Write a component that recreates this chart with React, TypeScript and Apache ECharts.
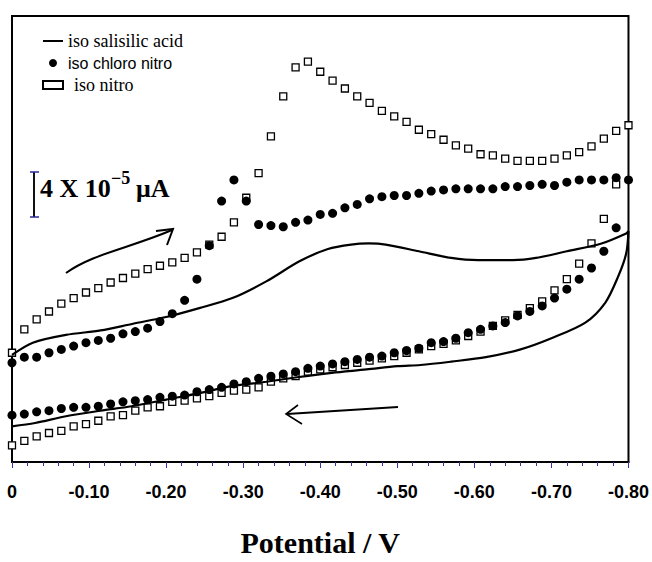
import React, { useEffect, useRef } from "react";
import * as echarts from "echarts";

// Potential sampling (V) for the scatter series, forward scan 0 -> -0.80
const POTENTIAL = [
  0, -0.016, -0.032, -0.048, -0.064, -0.08, -0.096, -0.112, -0.128, -0.144,
  -0.16, -0.176, -0.192, -0.208, -0.224, -0.24, -0.256, -0.272, -0.288, -0.304,
  -0.32, -0.336, -0.352, -0.368, -0.384, -0.4, -0.416, -0.432, -0.448, -0.464,
  -0.48, -0.496, -0.512, -0.528, -0.544, -0.56, -0.576, -0.592, -0.608, -0.624,
  -0.64, -0.656, -0.672, -0.688, -0.704, -0.72, -0.736, -0.752, -0.768, -0.784,
  -0.8,
];

// Current (units of 10^-5 µA, arbitrary offset)
// iso chloro nitro — forward scan (0 -> -0.80)
const CHLORO_FWD = [
  8.9, 9.4, 9.4, 9.8, 10.1, 10.4, 10.7, 10.9, 11.1, 11.5,
  11.7, 12.0, 12.6, 13.3, 14.5, 16.4, 19.4, 23.4, 25.3, 23.4,
  21.3, 21.2, 21.1, 21.5, 21.7, 22.2, 22.3, 22.8, 23.1, 23.6,
  23.8, 23.9, 23.9, 24.1, 24.3, 24.4, 24.5, 24.5, 24.5, 24.5,
  24.7, 24.7, 24.8, 24.9, 24.8, 25.1, 25.3, 25.3, 25.3, 25.5,
  25.3,
];
// iso chloro nitro — reverse scan (-0.784 -> 0)
const CHLORO_REV = [
  21.0, 18.9, 17.4, 16.4, 15.5, 14.7, 14.0, 13.5, 13.1, 12.5,
  12.2, 11.9, 11.6, 11.1, 10.8, 10.7, 10.2, 10.0, 9.8, 9.5,
  9.4, 9.2, 9.0, 8.8, 8.6, 8.4, 8.1, 7.9, 7.7, 7.5,
  7.2, 7.0, 6.7, 6.5, 6.3, 6.0, 5.9, 5.8, 5.6, 5.5,
  5.4, 5.2, 5.0, 4.9, 4.9, 4.8, 4.6, 4.5, 4.3, 4.2,
];
// iso nitro — forward scan (0 -> -0.80)
const NITRO_FWD = [
  9.8, 11.9, 12.8, 13.5, 14.2, 14.7, 15.2, 15.6, 16.1, 16.5,
  16.9, 17.3, 17.6, 17.9, 18.3, 18.8, 19.5, 20.2, 21.5, 23.7,
  25.9, 29.2, 32.8, 35.4, 35.9, 35.0, 34.2, 33.5, 32.8, 32.2,
  31.5, 31.0, 30.5, 29.8, 29.4, 28.9, 28.4, 28.1, 27.6, 27.5,
  27.2, 27.0, 27.0, 27.0, 27.2, 27.5, 27.8, 28.3, 29.0, 29.7,
  30.2,
];
// iso nitro — reverse scan (-0.784 -> 0)
const NITRO_REV = [
  24.9, 21.8, 19.6, 17.8, 16.4, 15.4, 14.4, 13.8, 13.2, 12.7,
  12.2, 11.7, 11.3, 10.9, 10.6, 10.4, 10.1, 9.8, 9.5, 9.3,
  9.1, 8.9, 8.7, 8.5, 8.3, 8.1, 7.7, 7.5, 7.2, 6.7,
  6.5, 6.4, 6.2, 5.9, 5.7, 5.5, 5.4, 5.0, 4.9, 4.6,
  4.2, 4.1, 3.7, 3.4, 3.2, 2.8, 2.6, 2.3, 1.9, 1.5,
];

// iso salisilic acid — continuous trace
const SALI_FWD_V = [
  0, -0.027, -0.07, -0.115, -0.157, -0.2, -0.243, -0.286, -0.33, -0.373,
  -0.41, -0.44, -0.463, -0.485, -0.528, -0.57, -0.605, -0.65, -0.68, -0.72,
  -0.765, -0.797, -0.8,
];
const SALI_FWD_I = [
  9.6, 10.7, 11.4, 11.8, 12.4, 13.0, 13.8, 14.7, 16.2, 18.0,
  19.1, 19.5, 19.6, 19.5, 18.9, 18.3, 18.1, 18.1, 18.3, 18.9,
  19.6, 20.5, 20.7,
];
const SALI_REV_V = [
  -0.797, -0.787, -0.77, -0.744, -0.7, -0.66, -0.615, -0.57, -0.53, -0.5,
  -0.46, -0.415, -0.37, -0.33, -0.285, -0.245, -0.2, -0.155, -0.115, -0.07,
  -0.03, 0,
];
const SALI_REV_I = [
  18.7, 16.7, 14.3, 12.5, 11.1, 10.1, 9.4, 9.0, 8.7, 8.6,
  8.3, 8.0, 7.6, 7.2, 6.8, 6.2, 5.6, 5.0, 4.6, 4.1,
  3.5, 3.2,
];

const SERIES_NAMES = ["iso salisilic acid", "iso chloro nitro", "iso nitro"];
const X_TICK_LABELS = ["0", "-0.10", "-0.20", "-0.30", "-0.40", "-0.50", "-0.60", "-0.70", "-0.80"];

const TICK_BLUE = "#3535a8";

function buildScan(fwd: number[], rev: number[]): number[][] {
  const pts: number[][] = [];
  fwd.forEach((v, i) => pts.push([POTENTIAL[i], v]));
  const n = POTENTIAL.length;
  rev.forEach((v, i) => pts.push([POTENTIAL[n - 2 - i], v]));
  return pts;
}

export default function App() {
  const ref = useRef<HTMLDivElement>(null);

  useEffect(() => {
    if (!ref.current) return;
    const chart = echarts.init(ref.current, null, { renderer: "svg" });

    const saliData: number[][] = [];
    SALI_FWD_V.forEach((v, i) => saliData.push([v, SALI_FWD_I[i]]));
    SALI_REV_V.forEach((v, i) => saliData.push([v, SALI_REV_I[i]]));

    const tickLabel = (v: number) => {
      const idx = Math.round(Math.abs(v) / 0.1);
      return X_TICK_LABELS[idx] ?? "";
    };

    const option: any = {
      animation: false,
      backgroundColor: "#fff",
      grid: {
        left: 12,
        right: 22,
        top: 16,
        bottom: 93,
        show: true,
        borderColor: "#000",
        borderWidth: 2,
        backgroundColor: "transparent",
      },
      xAxis: {
        type: "value",
        min: -0.8,
        max: 0,
        interval: 0.1,
        inverse: true,
        name: "Potential / V",
        nameLocation: "middle",
        nameGap: 65,
        nameTextStyle: {
          fontFamily: "'Liberation Serif', 'Times New Roman', serif",
          fontWeight: "bold",
          fontSize: 30,
          color: "#000",
        },
        axisLine: { show: true, onZero: false, lineStyle: { color: "#000", width: 2 } },
        axisTick: { show: true, length: 6, lineStyle: { color: TICK_BLUE, width: 1 } },
        minorTick: { show: true, splitNumber: 5, length: 4, lineStyle: { color: TICK_BLUE, width: 1 } },
        splitLine: { show: false },
        minorSplitLine: { show: false },
        axisLabel: {
          margin: 21,
          formatter: tickLabel,
          fontFamily: "'Liberation Sans', Arial, sans-serif",
          fontWeight: "bold",
          fontSize: 18,
          color: "#000",
          showMinLabel: true,
          showMaxLabel: true,
        },
      },
      yAxis: {
        type: "value",
        min: 0,
        max: 40,
        axisLine: { show: true, onZero: false, lineStyle: { color: "#000", width: 2 } },
        axisTick: { show: false },
        axisLabel: { show: false },
        splitLine: { show: false },
      },
      legend: {
        orient: "vertical",
        left: 37,
        top: 27,
        itemGap: 5,
        itemWidth: 20,
        itemHeight: 8,
        data: [
          { name: SERIES_NAMES[0], icon: "path://M0,0 H20 V2 H0 Z" },
          { name: SERIES_NAMES[1], icon: "circle" },
          { name: SERIES_NAMES[2], icon: "rect" },
        ],
        formatter: (name: string) => {
          if (name === SERIES_NAMES[1]) return "{sans|" + name + "}";
          if (name === SERIES_NAMES[2]) return "{nitro|" + name + "}";
          return "{serif|" + name + "}";
        },
        textStyle: {
          color: "#000",
          rich: {
            serif: { fontFamily: "'Liberation Serif', serif", fontSize: 18, color: "#000" },
            sans: { fontFamily: "'Liberation Sans', sans-serif", fontSize: 16, color: "#000" },
            nitro: { fontFamily: "'Liberation Serif', serif", fontSize: 18, color: "#000", padding: [0, 0, 0, 6] },
          },
        },
      },
      series: [
        {
          name: SERIES_NAMES[2],
          type: "scatter",
          symbol: "rect",
          symbolSize: 7,
          itemStyle: { color: "#fff", borderColor: "#000", borderWidth: 1.3, opacity: 1 },
          data: buildScan(NITRO_FWD, NITRO_REV),
          z: 2,
        },
        {
          name: SERIES_NAMES[1],
          type: "scatter",
          symbol: "circle",
          symbolSize: 9,
          itemStyle: { color: "#000", opacity: 1 },
          data: buildScan(CHLORO_FWD, CHLORO_REV),
          z: 3,
        },
        {
          name: SERIES_NAMES[0],
          type: "line",
          symbol: "none",
          smooth: 0.3,
          lineStyle: { color: "#000", width: 2.2 },
          itemStyle: { color: "#000" },
          data: saliData,
          z: 4,
        },
      ],
      graphic: [
        // scale bar
        { type: "line", shape: { x1: 34, y1: 172, x2: 34, y2: 217 }, style: { stroke: "#111", lineWidth: 2 } },
        { type: "line", shape: { x1: 30, y1: 172, x2: 39, y2: 172 }, style: { stroke: "#2a2aa0", lineWidth: 1.5 } },
        { type: "line", shape: { x1: 30, y1: 217, x2: 39, y2: 217 }, style: { stroke: "#2a2aa0", lineWidth: 1.5 } },
        {
          type: "text",
          x: 40,
          y: 201,
          style: {
            text: "4 X 10",
            fontFamily: "'Liberation Serif', serif",
            fontWeight: "bold",
            fontSize: 26,
            fill: "#000",
            verticalAlign: "bottom",
          },
        },
        {
          type: "text",
          x: 111,
          y: 187,
          style: {
            text: "\u22125",
            fontFamily: "'Liberation Serif', serif",
            fontWeight: "bold",
            fontSize: 18,
            fill: "#000",
            verticalAlign: "bottom",
          },
        },
        {
          type: "text",
          x: 136,
          y: 201,
          style: {
            text: "\u03bcA",
            fontFamily: "'Liberation Serif', serif",
            fontWeight: "bold",
            fontSize: 26,
            fill: "#000",
            verticalAlign: "bottom",
          },
        },
        // forward scan arrow
        {
          type: "bezierCurve",
          shape: { x1: 66, y1: 273, cpx1: 92, cpy1: 254, cpx2: 130, cpy2: 248, x2: 172, y2: 230 },
          style: { stroke: "#000", lineWidth: 2, fill: "none" },
        },
        {
          type: "polyline",
          shape: { points: [[156, 231], [173, 229], [167, 245]] },
          style: { stroke: "#000", lineWidth: 2, fill: "none" },
        },
        // reverse scan arrow
        {
          type: "polyline",
          shape: { points: [[398, 407], [287, 414]] },
          style: { stroke: "#000", lineWidth: 2, fill: "none" },
        },
        {
          type: "polyline",
          shape: { points: [[298, 405], [286, 414], [302, 424]] },
          style: { stroke: "#000", lineWidth: 1.6, fill: "none" },
        },
      ],
    };

    chart.setOption(option);
    return () => chart.dispose();
  }, []);

  return (
    <div
      ref={ref}
      style={{ position: "fixed", left: 0, top: 0, width: 652, height: 562, background: "#fff" }}
    />
  );
}
